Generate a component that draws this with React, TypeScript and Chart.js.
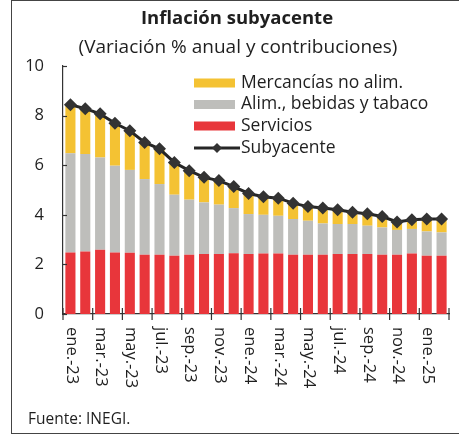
import React, { useEffect, useRef } from "react";
import { Chart, registerables } from "chart.js";

Chart.register(...registerables);

const months = [
  "ene.-23", "feb.-23", "mar.-23", "abr.-23", "may.-23", "jun.-23",
  "jul.-23", "ago.-23", "sep.-23", "oct.-23", "nov.-23", "dic.-23",
  "ene.-24", "feb.-24", "mar.-24", "abr.-24", "may.-24", "jun.-24",
  "jul.-24", "ago.-24", "sep.-24", "oct.-24", "nov.-24", "dic.-24",
  "ene.-25", "feb.-25",
];

const servicios = [
  2.48, 2.52, 2.59, 2.48, 2.47, 2.39, 2.39, 2.35, 2.39, 2.42, 2.42, 2.45,
  2.42, 2.44, 2.44, 2.39, 2.39, 2.39, 2.42, 2.42, 2.42, 2.39, 2.39, 2.44,
  2.35, 2.35,
];

const alimentos = [
  4.0, 3.93, 3.72, 3.5, 3.34, 3.05, 2.85, 2.46, 2.22, 2.08, 1.99, 1.82,
  1.61, 1.56, 1.52, 1.44, 1.37, 1.26, 1.21, 1.21, 1.14, 1.1, 1.0, 0.99,
  0.98, 0.94,
];

const mercancias = [
  1.96, 1.84, 1.79, 1.69, 1.58, 1.46, 1.41, 1.28, 1.17, 1.03, 0.97, 0.87,
  0.81, 0.71, 0.69, 0.62, 0.55, 0.6, 0.55, 0.45, 0.46, 0.42, 0.3, 0.35,
  0.48, 0.52,
];

const subyacente = [
  8.44, 8.28, 8.07, 7.69, 7.39, 6.92, 6.66, 6.11, 5.78, 5.51, 5.38, 5.14,
  4.86, 4.73, 4.67, 4.47, 4.33, 4.27, 4.2, 4.1, 4.04, 3.93, 3.71, 3.8,
  3.83, 3.83,
];

const yTicks = [0, 2, 4, 6, 8, 10];

const title = "Inflación subyacente";
const subtitle = "(Variación % anual y contribuciones)";
const source = "Fuente: INEGI.";

const COLORS = {
  mercancias: "#F4C233",
  alimentos: "#BEBEBB",
  servicios: "#E8363B",
  line: "#262626",
  axis: "#333333",
  text: "#1f1f1f",
};

const FONT = "'Open Sans', 'Noto Sans', sans-serif";

const legendItems = [
  { label: "Mercancías no alim.", color: COLORS.mercancias, type: "box" },
  { label: "Alim., bebidas y tabaco", color: COLORS.alimentos, type: "box" },
  { label: "Servicios", color: COLORS.servicios, type: "box" },
  { label: "Subyacente", color: COLORS.line, type: "line" },
];

const decorPlugin = {
  id: "decor",
  afterDraw(chart: any) {
    const ctx = chart.ctx as CanvasRenderingContext2D;
    const xs = chart.scales.x;
    const ys = chart.scales.y;
    const area = chart.chartArea;
    ctx.save();

    // Title & subtitle
    ctx.fillStyle = COLORS.text;
    ctx.textAlign = "center";
    ctx.textBaseline = "middle";
    ctx.font = `bold 18.5px ${FONT}`;
    ctx.fillText(title, 237, 19);
    ctx.font = `19px ${FONT}`;
    ctx.fillText(subtitle, 238, 48);

    // y ticks (inward)
    ctx.strokeStyle = COLORS.axis;
    ctx.lineWidth = 1.2;
    yTicks.forEach((v) => {
      const y = Math.round(ys.getPixelForValue(v)) + 0.5;
      ctx.beginPath();
      ctx.moveTo(area.left, y);
      ctx.lineTo(area.left + 4, y);
      ctx.stroke();
    });

    // x tick marks every 2 categories
    const n = months.length;
    const cw = (area.right - area.left) / n;
    const yAxis = area.bottom;
    for (let i = 0; i <= n; i += 2) {
      const x = i === n ? area.right : xs.getPixelForValue(i) - cw / 2;
      ctx.beginPath();
      ctx.moveTo(x, yAxis - 6);
      ctx.lineTo(x, yAxis + 6);
      ctx.stroke();
    }

    // x labels rotated +90
    ctx.font = `16.5px ${FONT}`;
    ctx.fillStyle = COLORS.text;
    ctx.textAlign = "left";
    ctx.textBaseline = "middle";
    for (let i = 0; i < n; i += 2) {
      const x = xs.getPixelForValue(i) + 1;
      ctx.save();
      ctx.translate(x, yAxis + 13);
      ctx.rotate(Math.PI / 2);
      ctx.fillText(months[i], 0, 0);
      ctx.restore();
    }

    // Legend
    const lx = 194;
    const rows = [83, 104.5, 126, 148];
    ctx.font = `17.5px ${FONT}`;
    legendItems.forEach((it, k) => {
      const y = rows[k];
      if (it.type === "box") {
        ctx.fillStyle = it.color;
        ctx.fillRect(lx, y - 4.5, 41, 9);
      } else {
        ctx.strokeStyle = it.color;
        ctx.lineWidth = 3;
        ctx.beginPath();
        ctx.moveTo(lx, y);
        ctx.lineTo(lx + 46, y);
        ctx.stroke();
        ctx.fillStyle = "#333";
        ctx.beginPath();
        const cx = lx + 23;
        ctx.moveTo(cx, y - 5);
        ctx.lineTo(cx + 5, y);
        ctx.lineTo(cx, y + 5);
        ctx.lineTo(cx - 5, y);
        ctx.closePath();
        ctx.fill();
      }
      ctx.fillStyle = COLORS.text;
      ctx.textAlign = "left";
      ctx.textBaseline = "middle";
      ctx.fillText(it.label, lx + 47, y);
    });

    // Source
    ctx.font = `15.5px ${FONT}`;
    ctx.fillStyle = COLORS.text;
    ctx.fillText(source, 28, 420);

    ctx.restore();
  },
};

export default function App() {
  const ref = useRef<HTMLCanvasElement | null>(null);

  useEffect(() => {
    document.body.style.margin = "0";
    document.body.style.background = "#ffffff";
    if (!ref.current) return;
    const chart = new Chart(ref.current, {
      type: "bar",
      data: {
        labels: months,
        datasets: [
          {
            type: "line",
            label: "Subyacente",
            data: subyacente,
            borderColor: COLORS.line,
            borderWidth: 3,
            backgroundColor: "#333",
            pointStyle: "rectRot",
            pointRadius: 6.5,
            pointBackgroundColor: "#333",
            pointBorderColor: "#333",
            pointBorderWidth: 0,
            stack: "line",
            order: 0,
            tension: 0,
          } as any,
          {
            type: "bar",
            label: "Servicios",
            data: servicios,
            backgroundColor: COLORS.servicios,
            stack: "bars",
            order: 1,
            barPercentage: 0.68,
            categoryPercentage: 1,
          },
          {
            type: "bar",
            label: "Alim., bebidas y tabaco",
            data: alimentos,
            backgroundColor: COLORS.alimentos,
            stack: "bars",
            order: 1,
            barPercentage: 0.68,
            categoryPercentage: 1,
          },
          {
            type: "bar",
            label: "Mercancías no alim.",
            data: mercancias,
            backgroundColor: COLORS.mercancias,
            stack: "bars",
            order: 1,
            barPercentage: 0.68,
            categoryPercentage: 1,
          },
        ],
      },
      options: {
        responsive: false,
        animation: false,
        devicePixelRatio: 1,
        layout: { padding: { left: 0, right: 10, top: 66, bottom: 0 } },
        plugins: {
          legend: { display: false },
          tooltip: { enabled: false },
          title: { display: false },
        },
        scales: {
          x: {
            type: "category",
            stacked: true,
            offset: true,
            grid: { display: false, drawTicks: false },
            border: { display: true, color: COLORS.axis, width: 1.2 },
            ticks: { display: false },
            afterFit(scale: any) {
              scale.height = 437 - 314;
            },
          },
          y: {
            stacked: true,
            min: 0,
            max: 10,
            grid: { display: false, drawTicks: false },
            border: { display: true, color: COLORS.axis, width: 1.2 },
            ticks: {
              stepSize: 2,
              padding: 19,
              color: COLORS.text,
              font: { family: FONT, size: 16.5 },
            },
            afterFit(scale: any) {
              scale.width = 63;
            },
          },
        },
      },
      plugins: [decorPlugin],
    });
    return () => chart.destroy();
  }, []);

  return (
    <div style={{ position: "relative", width: 459, height: 437, overflow: "hidden", background: "#fff" }}>
      <canvas ref={ref} width={459} height={437} style={{ display: "block" }} />
      <div
        style={{
          position: "absolute",
          left: 11,
          top: 0,
          width: 470,
          height: 432,
          borderLeft: "1.5px solid #444",
          borderTop: "1.5px solid #444",
          borderBottom: "1.5px solid #444",
          pointerEvents: "none",
        }}
      />
    </div>
  );
}
